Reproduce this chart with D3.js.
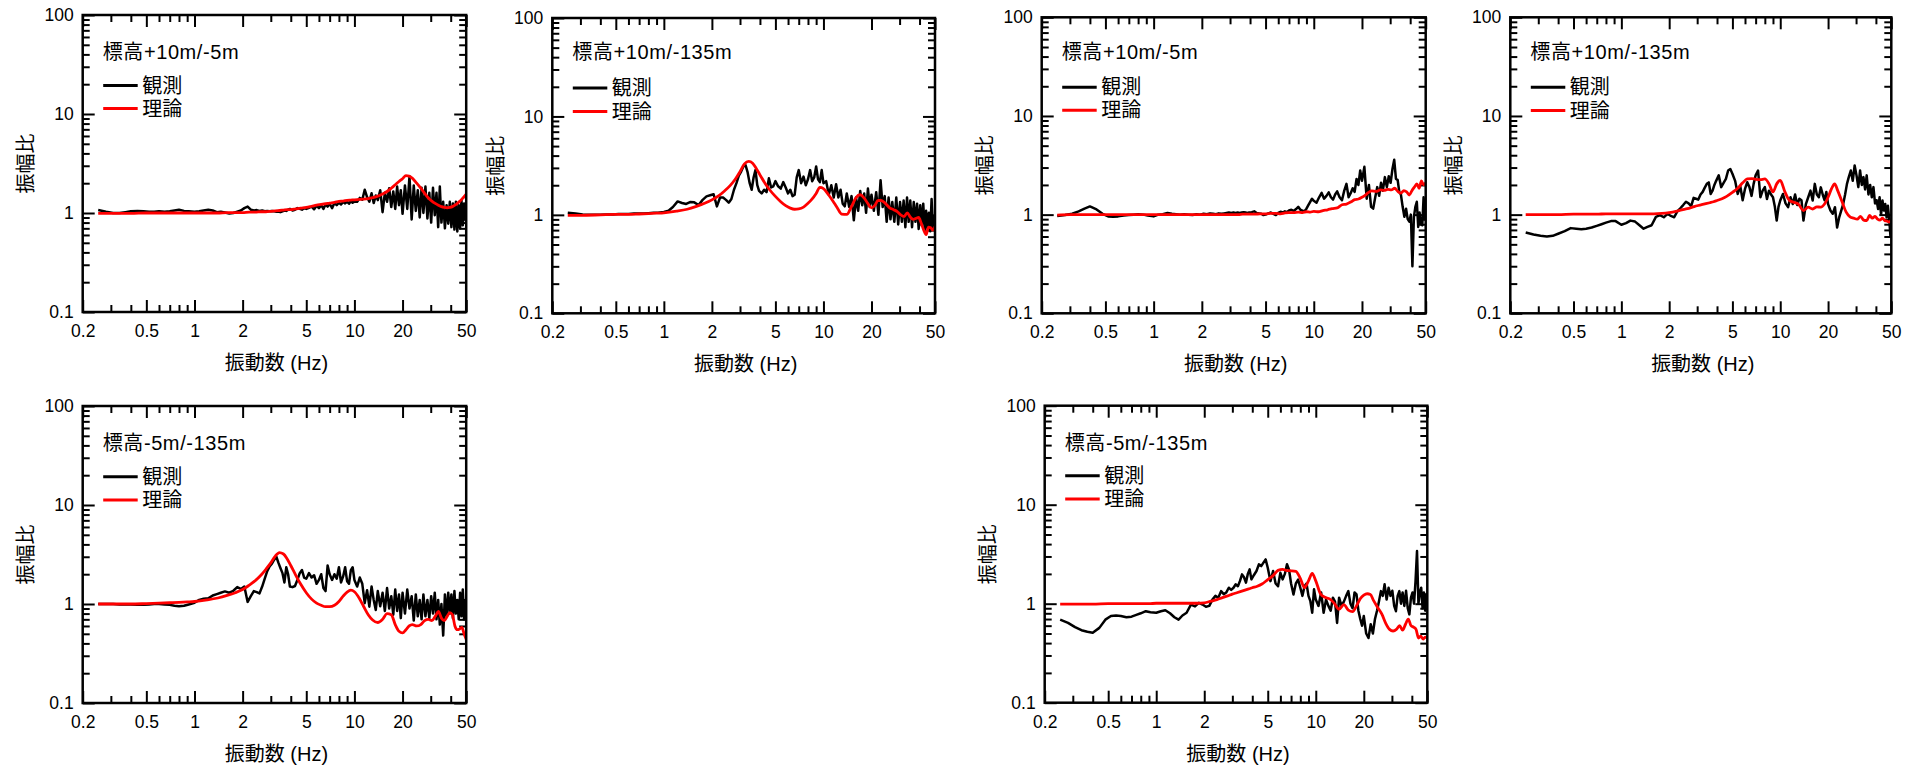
<!DOCTYPE html>
<html><head><meta charset="utf-8">
<script src="https://cdn.jsdelivr.net/npm/d3@7"></script>
<style>body{margin:0;background:#fff}svg{display:block}</style>
</head><body>
<svg id="chart" width="1907" height="765"></svg>
<script>
// ---------------- DATA ----------------
const freqObs = [
  0.25,0.28,0.31,0.34,0.37,0.4,0.44,0.48,0.52,0.56,0.6,0.65,0.7,0.75,0.8,0.86,0.92,1.0,1.07,1.14,1.22,1.3,1.38,1.46,1.55,1.65,1.75,1.85,1.95,
  2.05,2.15,2.25,2.35,2.45,2.55,2.65,2.75,2.85,2.95,3.05,3.15,3.25,3.35,3.45,3.55,3.65,3.75,3.85,3.95,4.1,4.25,4.4,4.55,4.7,4.85,5.0,
  5.2,5.4,5.6,5.8,6.0,6.2,6.4,6.6,6.8,7.0,7.25,7.5,7.75,8.0,8.25,8.5,8.75,9.0,9.25,9.5,9.75,10.0,
  10.4,10.8,11.2,11.6,12.0,12.4,12.8,13.2,13.6,14.0,14.5,15.0,15.5,16.0,16.5,17.0,17.5,18.0,18.5,19.0,19.5,20.0,
  20.7,21.4,22.1,22.8,23.5,24.2,24.9,25.6,26.3,27.0,27.8,28.6,29.4,30.2,31.0,31.8,32.6,33.4,34.2,35.0,35.9,36.8,37.7,38.6,39.5,40.4,41.3,42.2,43.1,44.0,44.9,45.8,46.7,47.6,48.5,49.4,50.0
];
const freqTh = [
  0.25,0.3,0.4,0.5,0.6,0.7,0.8,0.9,1.0,1.2,
  1.4,1.6,1.8,2.0,2.2,2.4,2.6,2.8,3.0,3.2,
  3.4,3.6,3.8,4.0,4.3,4.6,5.0,5.4,5.8,6.2,
  6.6,7.0,7.5,8.0,8.5,9.0,9.5,10,10.7,11.4,
  12.2,13,14,15,16,17,18,19,20,21,
  22,23,24.5,26,27.5,29,30.5,32,33.5,35,
  36.5,38,39.5,41,42.5,44,45.5,47,48.5,50
];

// observed (観測)
const obsP1 = [
  1.07,1.03,1.0,1.0,1.02,1.04,1.05,1.04,1.03,1.03,1.04,1.03,1.04,1.06,1.08,1.05,1.04,1.03,1.04,1.06,1.08,1.06,1.02,1.03,1.01,0.99,1.0,1.03,1.06,
  1.12,1.16,1.08,1.06,1.07,1.05,1.06,1.04,1.05,1.04,1.05,1.04,1.03,1.03,1.02,1.04,1.06,1.05,1.08,1.1,1.06,1.08,1.12,1.1,1.08,1.12,1.1,
  1.13,1.16,1.09,1.18,1.12,1.2,1.1,1.22,1.16,1.24,1.12,1.26,1.2,1.27,1.22,1.29,1.25,1.3,1.24,1.32,1.27,1.3,
  1.3,1.42,1.36,1.72,1.45,1.3,1.58,1.26,1.5,1.35,1.7,1.02,1.6,1.3,1.78,1.15,1.65,1.1,1.85,1.2,1.7,0.98,
  1.9,1.1,2.35,0.86,1.9,1.05,1.7,0.9,1.8,1.0,1.85,0.88,1.6,0.8,1.8,0.95,1.6,0.72,1.85,0.8,1.3,0.7,1.2,0.78,1.3,0.72,1.25,0.68,1.3,0.65,1.2,0.7,1.35,0.75,1.25,0.85,1.1
];
const obsP2 = [
  1.05,1.03,1.01,1.0,1.0,1.0,1.01,1.01,1.02,1.02,1.02,1.03,1.03,1.03,1.04,1.05,1.05,1.07,1.1,1.2,1.37,1.32,1.29,1.35,1.34,1.26,1.42,1.54,1.58,
  1.62,1.22,1.5,1.5,1.42,1.33,1.45,1.8,2.1,2.5,2.75,3.1,3.2,2.7,2.1,1.8,2.4,2.85,2.0,1.75,1.65,1.8,1.7,2.35,1.9,1.95,2.2,
  1.95,1.85,2.15,1.9,1.65,1.8,1.55,1.6,2.4,2.85,2.1,2.45,2.0,2.3,2.85,2.2,2.4,3.1,2.3,2.15,2.85,2.1,
  2.2,1.6,2.0,1.5,2.05,1.5,1.8,1.3,1.22,1.65,1.2,1.55,0.88,1.5,1.1,1.75,1.25,1.65,1.05,1.85,1.2,1.6,
  1.1,1.7,1.0,2.25,1.2,1.55,0.85,1.5,0.9,1.35,0.85,1.5,0.8,1.35,0.85,1.4,0.75,1.5,0.85,1.4,0.75,1.35,0.85,1.3,0.72,1.25,0.78,1.3,0.7,1.1,0.72,1.05,0.68,1.45,0.75,0.95,0.8
];
const obsP3 = [
  0.97,0.99,1.02,1.08,1.15,1.21,1.13,1.02,0.96,0.95,0.96,0.98,0.99,1.0,1.01,1.0,0.98,0.96,1.0,1.01,1.04,1.02,1.01,1.0,1.01,1.0,0.99,1.01,1.0,
  1.02,1.01,1.03,1.02,1.01,1.03,1.02,1.03,1.04,1.05,1.04,1.05,1.04,1.05,1.04,1.05,1.06,1.05,1.04,1.05,1.06,1.08,1.04,1.03,1.02,0.99,1.0,
  1.03,1.05,1.02,0.99,1.04,1.07,1.05,1.08,1.06,1.1,1.12,1.09,1.14,1.2,1.12,1.1,1.08,1.15,1.25,1.35,1.45,1.38,
  1.32,1.5,1.66,1.45,1.55,1.68,1.5,1.42,1.6,1.72,1.5,1.4,1.75,2.05,1.5,1.65,1.85,1.7,2.3,2.0,2.8,2.2,
  3.05,1.45,2.0,1.2,1.15,1.5,1.9,1.55,2.1,1.75,2.4,1.9,2.45,2.1,2.9,3.6,2.3,2.25,1.7,1.6,1.2,0.95,1.15,0.9,0.85,1.0,0.3,0.95,1.2,1.35,0.75,1.05,0.8,0.78,1.5,0.9,1.2
];
const obsP4 = [
  0.66,0.63,0.61,0.6,0.61,0.64,0.68,0.73,0.72,0.71,0.72,0.74,0.77,0.8,0.83,0.86,0.86,0.79,0.82,0.87,0.85,0.78,0.72,0.75,0.78,0.95,0.99,0.94,1.02,
  0.97,0.94,1.08,1.16,1.25,1.35,1.3,1.22,1.48,1.45,1.42,1.6,1.7,1.88,2.05,2.12,1.62,1.75,2.0,2.2,2.5,1.9,2.1,2.3,2.8,2.9,2.6,
  2.2,1.62,1.95,1.4,1.82,2.13,1.9,1.55,2.05,2.5,2.8,1.5,1.75,1.9,1.44,1.75,1.6,1.5,1.2,0.87,1.2,1.39,
  1.62,1.3,1.19,1.5,1.28,1.6,1.25,1.45,1.4,0.87,1.28,1.5,1.75,1.39,2.05,1.6,1.5,1.89,1.6,1.4,1.7,1.28,
  1.1,1.02,1.19,0.74,0.94,1.1,1.28,1.6,2.05,2.4,2.8,2.2,3.15,2.5,1.9,2.8,2.0,2.4,1.8,2.5,1.6,2.0,1.5,1.9,1.3,1.4,1.14,1.5,1.0,1.39,1.1,1.28,0.94,1.23,0.9,0.6,0.87
];
const obsP5 = [
  1.0,1.0,1.0,0.99,0.99,0.99,0.98,0.98,0.99,1.0,1.0,0.99,0.98,0.96,0.95,0.96,0.99,1.03,1.1,1.13,1.14,1.22,1.26,1.3,1.34,1.3,1.36,1.48,1.42,
  1.5,1.05,1.2,1.35,1.32,1.28,1.5,1.8,2.15,2.4,2.55,2.8,3.0,2.6,2.3,2.05,1.65,2.35,2.0,1.5,1.48,1.52,1.75,2.05,2.2,1.85,1.8,
  2.05,1.85,1.95,1.6,1.75,2.0,1.45,1.35,2.45,2.0,1.75,2.0,1.8,2.35,1.65,1.9,2.35,1.7,1.6,2.2,2.35,1.75,
  1.5,1.85,1.6,1.02,1.38,0.94,1.5,1.1,0.87,1.35,0.95,1.3,0.85,1.45,0.9,1.2,0.78,1.4,0.85,1.25,0.72,1.3,
  0.8,1.4,0.9,1.2,0.68,1.25,0.75,1.1,0.7,1.25,0.75,1.1,0.72,1.2,0.8,1.3,0.7,1.1,0.62,1.0,0.48,1.25,0.75,1.3,0.8,1.25,0.72,1.35,0.8,1.1,0.7,1.3,0.75,1.4,0.7,1.1,0.9
];
const obsP6 = [
  0.69,0.64,0.58,0.54,0.52,0.51,0.57,0.69,0.75,0.76,0.75,0.73,0.74,0.77,0.8,0.84,0.82,0.81,0.84,0.86,0.8,0.73,0.69,0.76,0.81,0.98,0.94,1.02,0.98,
  0.93,0.95,1.1,1.2,1.15,1.34,1.25,1.3,1.45,1.38,1.45,1.57,1.5,1.7,1.98,1.85,1.63,2.0,2.22,1.76,1.95,2.14,2.5,2.4,2.6,2.8,2.31,
  1.69,2.14,1.6,1.5,2.05,1.76,2.0,2.5,2.2,1.6,1.24,1.6,1.75,1.45,1.2,1.5,1.6,1.2,1.06,0.81,1.4,1.1,
  0.95,1.3,0.81,1.1,0.95,0.85,1.15,1.05,0.64,1.15,0.95,1.05,1.2,1.34,1.0,0.9,1.3,1.24,0.85,0.7,0.6,0.75,
  0.5,0.45,0.62,0.5,0.7,0.85,1.06,1.34,1.2,1.57,1.1,1.45,1.2,1.35,0.95,0.84,1.2,1.34,1.0,1.3,0.95,1.35,0.9,0.78,1.15,1.3,1.0,1.7,3.4,1.0,1.3,1.45,0.9,1.3,0.85,1.25,1.1
];

// theoretical (理論)
const thP1 = [
  0.99,0.99,0.99,1.0,1.0,1.0,1.0,1.0,1.0,1.0,
  1.0,1.01,1.01,1.01,1.02,1.02,1.03,1.03,1.04,1.05,
  1.06,1.07,1.08,1.08,1.1,1.12,1.14,1.17,1.2,1.22,
  1.24,1.26,1.28,1.31,1.32,1.34,1.35,1.36,1.37,1.38,
  1.4,1.43,1.48,1.56,1.65,1.78,1.93,2.08,2.22,2.38,
  2.36,2.25,2.0,1.78,1.58,1.42,1.32,1.25,1.2,1.16,
  1.14,1.13,1.14,1.16,1.2,1.25,1.31,1.38,1.46,1.55
];
const thP2 = [
  0.99,0.99,1.0,1.01,1.01,1.02,1.03,1.04,1.05,1.09,
  1.14,1.22,1.31,1.42,1.56,1.75,1.98,2.3,2.75,3.3,
  3.5,3.35,2.95,2.55,2.1,1.8,1.54,1.36,1.24,1.17,
  1.14,1.15,1.2,1.31,1.45,1.65,1.9,1.85,1.62,1.4,
  1.18,1.02,1.01,1.22,1.5,1.6,1.48,1.3,1.18,1.25,
  1.4,1.4,1.3,1.18,1.13,1.08,1.0,0.96,1.05,0.95,
  0.9,0.92,0.94,0.82,0.7,0.63,0.75,0.74,0.7,0.76
];
const thP3 = [
  0.99,1.0,1.0,1.0,1.0,1.0,1.0,1.0,1.0,1.0,
  1.0,1.0,1.0,1.0,1.0,1.0,1.0,1.0,1.0,1.0,
  1.0,1.01,1.01,1.01,1.01,1.02,1.02,1.03,1.03,1.02,
  1.04,1.05,1.05,1.06,1.05,1.07,1.06,1.08,1.07,1.1,
  1.12,1.15,1.17,1.26,1.28,1.34,1.42,1.44,1.5,1.58,
  1.68,1.74,1.72,1.78,1.76,1.8,1.78,1.85,1.72,1.65,
  1.75,1.7,1.58,1.75,1.9,2.05,1.85,2.2,2.0,2.1
];
const thP4 = [
  1.0,1.0,1.0,1.01,1.01,1.01,1.02,1.02,1.02,1.02,
  1.02,1.02,1.03,1.05,1.08,1.12,1.15,1.19,1.23,1.26,
  1.29,1.32,1.35,1.39,1.45,1.53,1.68,1.85,2.1,2.3,
  2.32,2.28,2.26,2.3,2.05,1.7,2.05,2.22,1.7,1.4,
  1.33,1.28,1.1,1.19,1.14,1.2,1.19,1.28,1.5,1.82,
  2.05,1.75,1.35,1.06,0.95,0.92,0.9,0.96,0.88,0.87,
  0.98,0.92,0.96,0.9,0.88,0.92,0.87,0.86,0.84,0.88
];
const thP5 = [
  1.0,1.0,1.0,1.01,1.02,1.03,1.04,1.05,1.06,1.1,
  1.15,1.22,1.3,1.4,1.55,1.72,1.95,2.25,2.6,3.05,
  3.3,3.2,2.85,2.45,1.95,1.6,1.3,1.12,1.02,0.97,
  0.94,0.94,0.97,1.06,1.2,1.32,1.38,1.33,1.15,0.95,
  0.78,0.69,0.65,0.7,0.8,0.78,0.62,0.53,0.51,0.55,
  0.6,0.62,0.6,0.62,0.68,0.7,0.68,0.75,0.84,0.72,
  0.68,0.75,0.82,0.78,0.6,0.55,0.56,0.58,0.5,0.44
];
const thP6 = [
  0.99,0.99,0.99,1.0,1.0,1.0,1.0,1.0,1.01,1.01,
  1.01,1.01,1.01,1.02,1.06,1.1,1.15,1.2,1.25,1.29,
  1.33,1.37,1.41,1.45,1.5,1.58,1.75,1.92,2.17,2.22,
  2.16,2.15,2.12,1.8,1.45,1.7,2.02,1.7,1.26,1.16,
  1.12,1.02,0.88,0.98,0.86,0.83,0.95,1.12,1.22,1.26,
  1.24,1.08,0.91,0.78,0.63,0.55,0.53,0.55,0.6,0.54,
  0.62,0.7,0.6,0.58,0.55,0.45,0.47,0.44,0.46,0.45
];

const panelTitles = ["標高+10m/-5m","標高+10m/-135m","標高+10m/-5m","標高+10m/-135m","標高-5m/-135m","標高-5m/-135m"];
const legendLabels = ["観測","理論"];
const xMajorTicks = [0.2,0.5,1,2,5,10,20,50];
const xMajorLabels = ["0.2","0.5","1","2","5","10","20","50"];
const xMinorTicks = [0.3,0.4,0.6,0.7,0.8,0.9,3,4,6,7,8,9,30,40];
const yMajorTicks = [0.1,1,10,100];
const yMajorLabels = ["0.1","1","10","100"];
const yMinorTicks = [0.2,0.3,0.4,0.5,0.6,0.7,0.8,0.9,2,3,4,5,6,7,8,9,20,30,40,50,60,70,80,90];
const xTitle = "振動数 (Hz)";
const yTitle = "振幅比";

// ---------------- LAYOUT ----------------
const layout = [
  {l:82.7,  t:15,    w:383.5, h:297},
  {l:552.3, t:18,    w:382.7, h:295.3},
  {l:1041.7,t:17.3,  w:384,   h:296},
  {l:1510.3,t:17.3,  w:381,   h:296},
  {l:82.7,  t:406,   w:383.5, h:297},
  {l:1044.7,t:405.7, w:382.6, h:297}
];
const obsSeries = [obsP1,obsP2,obsP3,obsP4,obsP5,obsP6];
const thSeries  = [thP1,thP2,thP3,thP4,thP5,thP6];
const titleY = [52,52,52,52,443,443];
const legY = [[85.5,108.5],[88,111.5],[87.3,110.3],[87.3,110.5],[476.7,500],[475.7,499]];

const FONT = "'Liberation Sans', Arial, 'Noto Sans CJK JP', sans-serif";
const svg = d3.select("#chart");
svg.append("rect").attr("width",1907).attr("height",765).attr("fill","#fff");

function zip(xs, ys){ const n=Math.min(xs.length, ys.length); const r=[]; for(let i=0;i<n;i++) r.push([xs[i],ys[i]]); return r; }

layout.forEach((p, i) => {
  const g = svg.append("g").attr("transform", `translate(${p.l},${p.t})`);
  const x = d3.scaleLog().domain([0.2,50]).range([0,p.w]);
  const y = d3.scaleLog().domain([0.1,100]).range([p.h,0]);

  const clipId = "clip"+i;
  g.append("clipPath").attr("id",clipId).append("rect").attr("width",p.w).attr("height",p.h);

  const styleAxis = sel => {
    sel.select(".domain").remove();
    sel.selectAll(".tick line").attr("stroke","#000").attr("stroke-width",2);
    sel.selectAll("text").attr("fill","#000").style("font-family",FONT).style("font-size","17.5px");
  };

  // bottom
  g.append("g").attr("transform",`translate(0,${p.h})`)
    .call(d3.axisBottom(x).tickValues(xMajorTicks).tickSize(-12).tickSizeOuter(0).tickPadding(12.5)
      .tickFormat((d,k)=>xMajorLabels[k])).call(styleAxis);
  g.append("g").attr("transform",`translate(0,${p.h})`)
    .call(d3.axisBottom(x).tickValues(xMinorTicks).tickSize(-7).tickSizeOuter(0).tickFormat("")).call(styleAxis);
  // top
  g.append("g").call(d3.axisTop(x).tickValues(xMajorTicks).tickSize(-12).tickSizeOuter(0).tickFormat("")).call(styleAxis);
  g.append("g").call(d3.axisTop(x).tickValues(xMinorTicks).tickSize(-7).tickSizeOuter(0).tickFormat("")).call(styleAxis);
  // left
  g.append("g")
    .call(d3.axisLeft(y).tickValues(yMajorTicks).tickSize(-12).tickSizeOuter(0).tickPadding(9)
      .tickFormat((d,k)=>yMajorLabels[k])).call(styleAxis);
  g.append("g").call(d3.axisLeft(y).tickValues(yMinorTicks).tickSize(-7).tickSizeOuter(0).tickFormat("")).call(styleAxis);
  // right
  g.append("g").attr("transform",`translate(${p.w},0)`)
    .call(d3.axisRight(y).tickValues(yMajorTicks).tickSize(-12).tickSizeOuter(0).tickFormat("")).call(styleAxis);
  g.append("g").attr("transform",`translate(${p.w},0)`)
    .call(d3.axisRight(y).tickValues(yMinorTicks).tickSize(-7).tickSizeOuter(0).tickFormat("")).call(styleAxis);

  // lines
  const lineObs = d3.line().x(d=>x(d[0])).y(d=>y(d[1]));
  const lineTh = d3.line().x(d=>x(d[0])).y(d=>y(d[1])).curve(d3.curveMonotoneX);
  const lg = g.append("g").attr("clip-path",`url(#${clipId})`);
  lg.append("path").datum(zip(freqObs, obsSeries[i])).attr("d",lineObs)
    .attr("fill","none").attr("stroke","#000").attr("stroke-width",2.5).attr("stroke-linejoin","round");
  lg.append("path").datum(zip(freqTh, thSeries[i])).attr("d",lineTh)
    .attr("fill","none").attr("stroke","#ff0000").attr("stroke-width",2.8).attr("stroke-linejoin","round");

  // frame
  g.append("rect").attr("width",p.w).attr("height",p.h).attr("fill","none").attr("stroke","#000").attr("stroke-width",2.5);

  // title inside panel
  svg.append("text").attr("x",p.l+20).attr("y",titleY[i]).attr("dominant-baseline","central")
    .style("font-family",FONT).style("font-size","20px").style("letter-spacing","0.6px").attr("fill","#000").text(panelTitles[i]);

  // legend
  const colors = ["#000","#ff0000"];
  legendLabels.forEach((lab,k)=>{
    const ly = legY[i][k];
    svg.append("line").attr("x1",p.l+20.5).attr("x2",p.l+55).attr("y1",ly).attr("y2",ly)
      .attr("stroke",colors[k]).attr("stroke-width",3);
    svg.append("text").attr("x",p.l+59.5).attr("y",ly).attr("dominant-baseline","central")
      .style("font-family",FONT).style("font-size","20px").attr("fill","#000").text(lab);
  });

  // axis titles
  svg.append("text").attr("x",p.l+p.w/2+2).attr("y",p.t+p.h+51).attr("text-anchor","middle")
    .attr("dominant-baseline","central").style("font-family",FONT).style("font-size","20px").attr("fill","#000").text(xTitle);
  svg.append("text").attr("transform",`translate(${p.l-56.5},${p.t+p.h/2}) rotate(-90)`).attr("text-anchor","middle")
    .attr("dominant-baseline","central").style("font-family",FONT).style("font-size","20px").attr("fill","#000").text(yTitle);
});
</script>
</body></html>
